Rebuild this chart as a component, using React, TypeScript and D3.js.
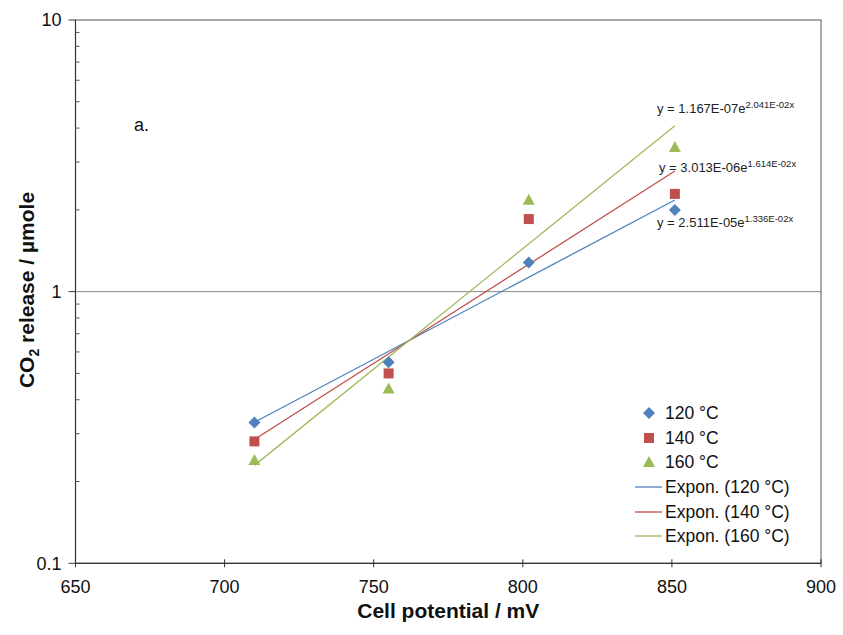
import React from "react";
import * as d3 from "d3";

const xVals = [710, 755, 802, 851];
const s120 = [0.33, 0.55, 1.28, 2.0];
const s140 = [0.281, 0.5, 1.85, 2.29];
const s160 = [0.24, 0.44, 2.18, 3.41];
const seriesNames = ["120 °C", "140 °C", "160 °C"];
const trendA = [2.511e-5, 3.013e-6, 1.167e-7];
const trendB = [1.336e-2, 1.614e-2, 2.041e-2];
const eqMain = ["y = 2.511E-05e", "y = 3.013E-06e", "y = 1.167E-07e"];
const eqSup = ["1.336E-02x", "1.614E-02x", "2.041E-02x"];
const xTicks = [650, 700, 750, 800, 850, 900];
const yMajor = [0.1, 1, 10];
const colors = ["#4F81BD", "#C0504D", "#9BBB59"];

export default function App() {
  const W = 843, H = 635;
  const left = 75.5, right = 821, top = 20, bottom = 563.3;
  const x = d3.scaleLinear().domain([650, 900]).range([left, right]);
  const y = d3.scaleLog().domain([0.1, 10]).range([bottom, top]);
  const data = [s120, s140, s160];
  const font = "'Liberation Sans', Arial, sans-serif";

  const minor: number[] = [];
  [0.1, 1].forEach((d) => {
    for (let k = 2; k <= 9; k++) minor.push(d * k);
  });

  const marker = (si: number, cx: number, cy: number, key: string) => {
    const c = colors[si];
    if (si === 0) {
      const s = 6;
      return <path key={key} d={`M${cx},${cy - s}L${cx + s},${cy}L${cx},${cy + s}L${cx - s},${cy}Z`} fill={c} />;
    }
    if (si === 1) {
      return <rect key={key} x={cx - 5} y={cy - 5} width={10} height={10} fill={c} />;
    }
    return <path key={key} d={`M${cx},${cy - 6}L${cx + 6},${cy + 5}L${cx - 6},${cy + 5}Z`} fill={c} />;
  };

  const eqPos = [
    { x: 657, y: 227 },
    { x: 659, y: 172 },
    { x: 657, y: 113 },
  ];

  const legendRows = [413, 438, 462, 487, 512, 536];

  return (
    <svg width={W} height={H} style={{ display: "block", position: "absolute", left: 0, top: 0 }} fontFamily={font}>
      <rect width={W} height={H} fill="#fff" />
      <line x1={left} x2={right} y1={y(1)} y2={y(1)} stroke="#888" strokeWidth={1} />
      <rect x={left} y={top} width={right - left} height={bottom - top} fill="none" stroke="#555" strokeWidth={1} />
      <line x1={left} x2={left} y1={top} y2={bottom} stroke="#333" strokeWidth={1.2} />
      <line x1={left} x2={right} y1={bottom} y2={bottom} stroke="#333" strokeWidth={1.2} />
      {yMajor.map((v) => (
        <g key={"ym" + v}>
          <line x1={left - 7} x2={left} y1={y(v)} y2={y(v)} stroke="#333" />
          <text x={left - 14} y={y(v)} dy="0.35em" textAnchor="end" fontSize={18} fill="#111">
            {v}
          </text>
        </g>
      ))}
      {minor.map((v) => (
        <line key={"mn" + v} x1={left} x2={left + 4} y1={y(v)} y2={y(v)} stroke="#555" />
      ))}
      {xTicks.map((v) => (
        <g key={"xt" + v}>
          <line x1={x(v)} x2={x(v)} y1={bottom - 4} y2={bottom + 4} stroke="#333" />
          <text x={x(v)} y={bottom + 30} textAnchor="middle" fontSize={18} fill="#111">
            {v}
          </text>
        </g>
      ))}
      <text x={(left + right) / 2} y={618} textAnchor="middle" fontSize={21} fontWeight="bold" fill="#111">
        Cell potential / mV
      </text>
      <text transform={`translate(34,${290}) rotate(-90)`} textAnchor="middle" fontSize={21} fontWeight="bold" fill="#111">
        CO<tspan fontSize={14} dy={5}>2</tspan>
        <tspan dy={-5}> release / µmole</tspan>
      </text>
      <text x={134} y={131} fontSize={18} fill="#111">a.</text>
      {trendA.map((a, i) => {
        const pts: [number, number][] = [710, 851].map((xv) => [x(xv), y(a * Math.exp(trendB[i] * xv))]);
        return <path key={"tr" + i} d={d3.line()(pts) || ""} stroke={colors[i]} strokeWidth={1.3} fill="none" />;
      })}
      {data.map((s, si) => s.map((v, i) => marker(si, x(xVals[i]), y(v), `m${si}-${i}`)))}
      {eqMain.map((t, i) => (
        <text key={"eq" + i} x={eqPos[i].x} y={eqPos[i].y} fontSize={13} fill="#222">
          {t}
          <tspan fontSize={9.5} dy={-5}>{eqSup[i]}</tspan>
        </text>
      ))}
      {seriesNames.map((n, i) => (
        <g key={"lg" + i}>
          {marker(i, 649, legendRows[i], "lm" + i)}
          <text x={665} y={legendRows[i]} dy="0.36em" fontSize={17.5} fill="#111">{n}</text>
        </g>
      ))}
      {seriesNames.map((n, i) => (
        <g key={"lt" + i}>
          <line x1={635} x2={662} y1={legendRows[3 + i]} y2={legendRows[3 + i]} stroke={colors[i]} strokeWidth={1.3} />
          <text x={665} y={legendRows[3 + i]} dy="0.36em" fontSize={17.5} fill="#111">{`Expon. (${n})`}</text>
        </g>
      ))}
    </svg>
  );
}
